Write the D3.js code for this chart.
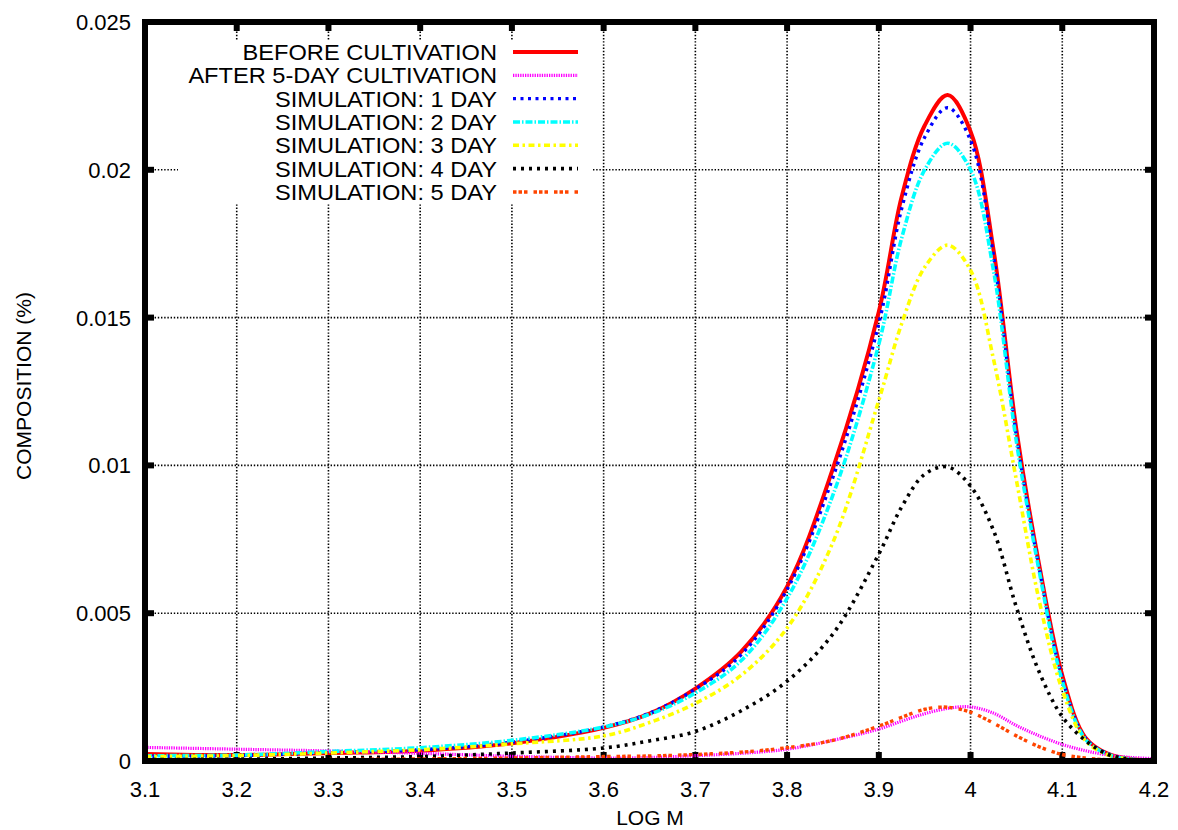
<!DOCTYPE html>
<html>
<head>
<meta charset="utf-8">
<script src="https://cdn.jsdelivr.net/npm/d3@7"></script>
<style>
	body { margin: 0; background: #fff; }
	svg text { font-family: "Liberation Sans", Arial, sans-serif; fill: #000; }
</style>
</head>
<body>
<div id="chart"></div>
<script>
var WIDTH = 1178;
var HEIGHT = 830;

// log M sample points
var logM = [3.1, 3.2, 3.3, 3.4, 3.5, 3.6, 3.65, 3.7, 3.75, 3.8, 3.85, 3.9, 3.925, 3.95,
	3.975, 4.0, 4.025, 4.05, 4.075, 4.1, 4.125, 4.15, 4.175, 4.2];

var beforeCultivation = [0.00024, 0.0002, 0.00027, 0.00035, 0.0006, 0.00112, 0.0016, 0.00245, 0.0037, 0.0059,
	0.0099, 0.0152, 0.0191, 0.0215, 0.02253, 0.0213, 0.0173, 0.0112, 0.0066, 0.0029, 0.0008, 0.00024, 0.00007, 0.00002];
var after5Day = [0.00046, 0.0004, 0.00034, 0.00026, 0.00016, 0.0001, 0.00012, 0.00018, 0.00026, 0.0004,
	0.0007, 0.00108, 0.00135, 0.0016, 0.00178, 0.00183, 0.00162, 0.0012, 0.00085, 0.00056, 0.00035, 0.0002, 0.00012, 0.00008];
var sim1Day = [0.00016, 0.00018, 0.00028, 0.00038, 0.00064, 0.00115, 0.00162, 0.00243, 0.0036, 0.0058,
	0.0096, 0.0148, 0.0187, 0.0211, 0.0221, 0.0210, 0.0171, 0.0110, 0.0065, 0.0028, 0.00078, 0.00024, 0.00007, 0.00002];
var sim2Day = [0.00018, 0.0002, 0.00032, 0.00045, 0.0007, 0.00115, 0.00158, 0.0023, 0.0034, 0.0055,
	0.0090, 0.0141, 0.0177, 0.0200, 0.0209, 0.0200, 0.0166, 0.0108, 0.0064, 0.0027, 0.00075, 0.00022, 0.00006, 0.00002];
var sim3Day = [0.00015, 0.00018, 0.00027, 0.00038, 0.00058, 0.00085, 0.0013, 0.00195, 0.0029, 0.0045,
	0.0074, 0.0122, 0.0148, 0.0167, 0.01745, 0.0166, 0.0136, 0.0095, 0.0054, 0.0024, 0.0007, 0.0002, 0.00006, 0.00002];
var sim4Day = [0.00005, 0.00006, 0.0001, 0.00015, 0.00027, 0.00044, 0.00068, 0.001, 0.0017, 0.0027,
	0.0043, 0.0070, 0.0086, 0.0097, 0.00995, 0.0093, 0.0078, 0.0052, 0.0030, 0.0015, 0.0007, 0.00022, 0.00005, 0.00001];
var sim5Day = [0.00002, 0.00003, 0.00005, 0.00007, 0.0001, 0.00015, 0.00017, 0.00022, 0.0003, 0.00045,
	0.0007, 0.00118, 0.00148, 0.00175, 0.00182, 0.00165, 0.00128, 0.00085, 0.00048, 0.00022, 0.0001, 0.00004, 0.00001, 0];

var seriesNames = ["BEFORE CULTIVATION", "AFTER 5-DAY CULTIVATION", "SIMULATION: 1 DAY",
	"SIMULATION: 2 DAY", "SIMULATION: 3 DAY", "SIMULATION: 4 DAY", "SIMULATION: 5 DAY"];
var seriesValues = [beforeCultivation, after5Day, sim1Day, sim2Day, sim3Day, sim4Day, sim5Day];

var xTicks = [3.1, 3.2, 3.3, 3.4, 3.5, 3.6, 3.7, 3.8, 3.9, 4.0, 4.1, 4.2];
var xTickLabels = ["3.1", "3.2", "3.3", "3.4", "3.5", "3.6", "3.7", "3.8", "3.9", "4", "4.1", "4.2"];
var yTicks = [0, 0.005, 0.01, 0.015, 0.02, 0.025];
var yTickLabels = ["0", "0.005", "0.01", "0.015", "0.02", "0.025"];

// line styles, same order as seriesNames
var lineStyles = [
	{ color: "#ff0000", width: 4, dash: null },
	{ color: "#ff00ff", width: 3.2, dash: "1.3,1.1" },
	{ color: "#0000ff", width: 3.4, dash: "3,4.5" },
	{ color: "#00ffff", width: 3.6, dash: "7,2,1.5,2" },
	{ color: "#ffff00", width: 3.6, dash: "6,3.5,2.5,3.5" },
	{ color: "#000000", width: 3.6, dash: "3,5" },
	{ color: "#ff4500", width: 3.4, dash: "3.5,2,3.5,2,3.5,6" }
];

var margin = { left: 145, right: WIDTH - 1154, top: 22, bottom: HEIGHT - 761 };
var plotWidth = WIDTH - margin.left - margin.right;
var plotHeight = HEIGHT - margin.top - margin.bottom;

var svg = d3.select("#chart")
	.append("svg")
	.attr("width", WIDTH)
	.attr("height", HEIGHT);

var inner = svg.append("g")
	.attr("transform", `translate(${margin.left},${margin.top})`);

var xScale = d3.scaleLinear().domain([3.1, 4.2]).range([0, plotWidth]);
var yScale = d3.scaleLinear().domain([0, 0.025]).range([plotHeight, 0]);

// grid
inner.selectAll(".vgrid")
	.data(xTicks.slice(1, -1))
	.enter().append("line")
	.attr("class", "vgrid")
	.attr("x1", d => xScale(d)).attr("x2", d => xScale(d))
	.attr("y1", 0).attr("y2", plotHeight)
	.attr("stroke", "#000").attr("stroke-width", 1.6)
	.attr("stroke-dasharray", "1.4,1.8");

inner.selectAll(".hgrid")
	.data(yTicks.slice(1, -1))
	.enter().append("line")
	.attr("class", "hgrid")
	.attr("x1", 0).attr("x2", plotWidth)
	.attr("y1", d => yScale(d)).attr("y2", d => yScale(d))
	.attr("stroke", "#000").attr("stroke-width", 1.6)
	.attr("stroke-dasharray", "1.4,1.8");

// legend background hides the grid
svg.append("rect")
	.attr("x", 178).attr("y", 40)
	.attr("width", 415).attr("height", 163)
	.attr("fill", "#fff");

// ticks (inward, mirrored)
var tickLen = 9;
xTicks.forEach(function (t) {
	inner.append("line")
		.attr("x1", xScale(t)).attr("x2", xScale(t))
		.attr("y1", plotHeight).attr("y2", plotHeight - tickLen)
		.attr("stroke", "#000").attr("stroke-width", 6);
	inner.append("line")
		.attr("x1", xScale(t)).attr("x2", xScale(t))
		.attr("y1", 0).attr("y2", tickLen)
		.attr("stroke", "#000").attr("stroke-width", 6);
});
yTicks.forEach(function (t) {
	inner.append("line")
		.attr("x1", 0).attr("x2", tickLen)
		.attr("y1", yScale(t)).attr("y2", yScale(t))
		.attr("stroke", "#000").attr("stroke-width", 6);
	inner.append("line")
		.attr("x1", plotWidth).attr("x2", plotWidth - tickLen)
		.attr("y1", yScale(t)).attr("y2", yScale(t))
		.attr("stroke", "#000").attr("stroke-width", 6);
});

// curves
var line = d3.line()
	.x(d => xScale(d[0]))
	.y(d => yScale(Math.max(0, d[1])))
	.curve(d3.curveCatmullRom.alpha(0.5));

seriesValues.forEach(function (vals, i) {
	var st = lineStyles[i];
	inner.append("path")
		.datum(logM.map((x, j) => [x, vals[j]]))
		.attr("d", line)
		.attr("fill", "none")
		.attr("stroke", st.color)
		.attr("stroke-width", st.width)
		.attr("stroke-dasharray", st.dash);
});

// border
inner.append("rect")
	.attr("x", 0).attr("y", 0)
	.attr("width", plotWidth).attr("height", plotHeight)
	.attr("fill", "none")
	.attr("stroke", "#000").attr("stroke-width", 6);

// tick labels
inner.selectAll(".xlabel")
	.data(xTicks)
	.enter().append("text")
	.attr("class", "xlabel")
	.attr("x", d => xScale(d))
	.attr("y", plotHeight + 36)
	.attr("text-anchor", "middle")
	.style("font-size", "22px")
	.text((d, i) => xTickLabels[i]);

inner.selectAll(".ylabel")
	.data(yTicks)
	.enter().append("text")
	.attr("class", "ylabel")
	.attr("x", -14)
	.attr("y", d => yScale(d) + 8)
	.attr("text-anchor", "end")
	.style("font-size", "22px")
	.text((d, i) => yTickLabels[i]);

// axis titles
svg.append("text")
	.attr("x", 650)
	.attr("y", 825)
	.attr("text-anchor", "middle")
	.style("font-size", "21px")
	.text("LOG M");

svg.append("text")
	.attr("transform", "translate(31,386) rotate(-90)")
	.attr("text-anchor", "middle")
	.style("font-size", "21px")
	.text("COMPOSITION (%)");

// legend
var legend = svg.append("g");
seriesNames.forEach(function (name, i) {
	var y = 52 + i * 23.33;
	var st = lineStyles[i];
	legend.append("text")
		.attr("transform", `translate(497,${y + 8}) scale(1.05,1)`)
		.attr("text-anchor", "end")
		.style("font-size", "22.5px")
		.text(name);
	legend.append("line")
		.attr("x1", 513).attr("x2", 578)
		.attr("y1", y).attr("y2", y)
		.attr("stroke", st.color)
		.attr("stroke-width", st.width)
		.attr("stroke-dasharray", st.dash);
});
</script>
</body>
</html>
